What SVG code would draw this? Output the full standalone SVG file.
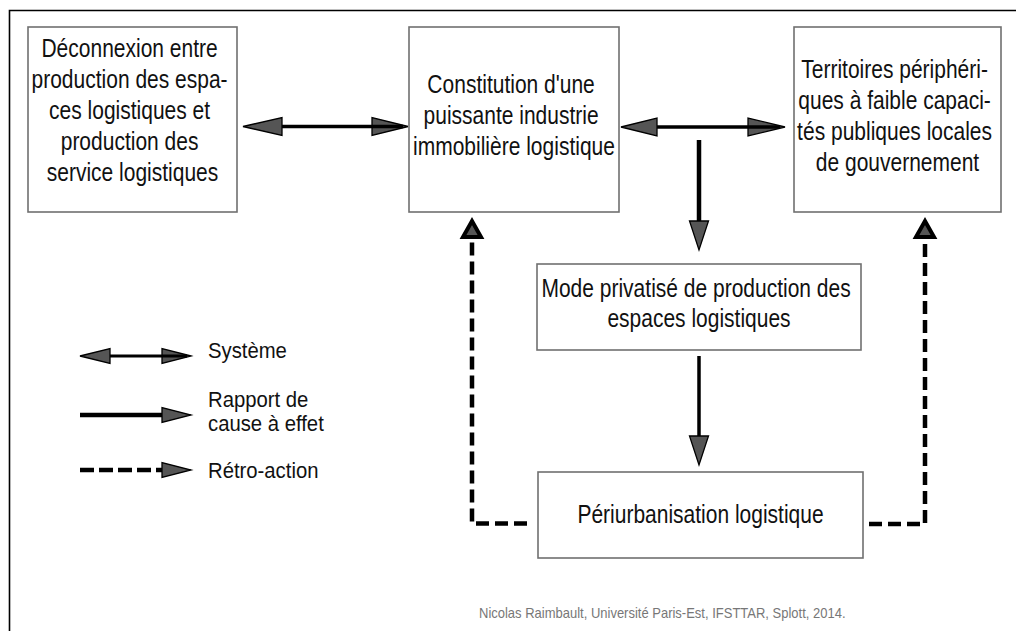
<svg xmlns="http://www.w3.org/2000/svg" width="1016" height="631" viewBox="0 0 1016 631">
<style>
.box{fill:#fff;stroke:#707070;stroke-width:1.6}
.t{font-family:"Liberation Sans",Arial,sans-serif;font-size:21px;fill:#111;text-anchor:middle}
.lg{font-family:"Liberation Sans",Arial,sans-serif;font-size:20.3px;fill:#111}
.ln{stroke:#000;fill:none}
.hd{fill:#555;stroke:#000;stroke-width:1.3;stroke-linejoin:miter}
.fb{fill:#555;stroke:#000;stroke-width:4;stroke-linejoin:miter}
.dash{stroke:#000;fill:none;stroke-width:4.5;stroke-dasharray:13 6}
</style>
<rect x="0" y="0" width="1016" height="631" fill="#fff"/>
<path d="M9.5,631 V10.5 H1016" fill="none" stroke="#000" stroke-width="1.6"/>

<g id="connectors">
  <polygon class="hd" points="243,126.5 282,117.5 282,135.5"/>
  <polygon class="hd" points="408,126.5 372,117.5 372,135.5"/>
  <line class="ln" x1="282" y1="126.5" x2="403" y2="126.5" stroke-width="3.5"/>
  <polygon class="hd" points="621,127 657,118 657,136"/>
  <polygon class="hd" points="785,127 748,118 748,136"/>
  <line class="ln" x1="657" y1="127" x2="780" y2="127" stroke-width="3.5"/>
  <line class="ln" x1="699" y1="140" x2="699" y2="222" stroke-width="4.5"/>
  <polygon class="hd" points="689.5,221 708.5,221 699,250"/>
  <line class="ln" x1="699" y1="356" x2="699" y2="437" stroke-width="3.5"/>
  <polygon class="hd" points="689.5,436 708.5,436 699,465"/>
  <path class="dash" d="M527,523.5 H472 V242"/>
  <polygon class="fb" points="463,237 481,237 472,221"/>
  <path class="dash" d="M869,524 H925 V242"/>
  <polygon class="fb" points="916,237 934,237 925,221"/>
</g>

<g id="n1">
  <rect class="box" x="28" y="27" width="209" height="185"/>
  <text class="t" transform="scale(1 1.2)">
    <tspan x="132.5" y="47.5">Déconnexion entre</tspan>
    <tspan x="132.5" y="73.33">production des espa-</tspan>
    <tspan x="132.5" y="99.17">ces logistiques et</tspan>
    <tspan x="132.5" y="125">production des</tspan>
    <tspan x="132.5" y="150.83">service logistiques</tspan>
  </text>
</g>
<g id="n2">
  <rect class="box" x="409" y="27" width="210" height="185"/>
  <text class="t" transform="scale(1 1.2)">
    <tspan x="514" y="77.5">Constitution d'une</tspan>
    <tspan x="514" y="103.33">puissante industrie</tspan>
    <tspan x="514" y="129.17">immobilière logistique</tspan>
  </text>
</g>
<g id="n3">
  <rect class="box" x="794" y="27" width="207" height="185"/>
  <text class="t" transform="scale(1 1.2)">
    <tspan x="897.5" y="65">Territoires périphéri-</tspan>
    <tspan x="897.5" y="90.83">ques à faible capaci-</tspan>
    <tspan x="897.5" y="116.67">tés publiques locales</tspan>
    <tspan x="897.5" y="142.5">de gouvernement</tspan>
  </text>
</g>
<g id="n4">
  <rect class="box" x="537" y="264" width="324" height="86"/>
  <text class="t" transform="scale(1 1.2)">
    <tspan x="699" y="247.5">Mode privatisé de production des</tspan>
    <tspan x="699" y="272.5">espaces logistiques</tspan>
  </text>
</g>
<g id="n5">
  <rect class="box" x="538" y="472" width="325" height="86"/>
  <text class="t" transform="scale(1 1.2)">
    <tspan x="700.5" y="435.83">Périurbanisation logistique</tspan>
  </text>
</g>

<g id="legend">
  <polygon class="hd" points="80,356 110,348.5 110,363.5"/>
  <polygon class="hd" points="191,356 162,348.5 162,363.5"/>
  <line class="ln" x1="110" y1="356" x2="187" y2="356" stroke-width="3"/>
  <text class="lg" transform="scale(1 1.08)" x="208" y="331.5">Système</text>

  <line class="ln" x1="80" y1="415" x2="163" y2="415" stroke-width="4.5"/>
  <polygon class="hd" points="162,407.5 162,422.5 191,415"/>
  <text class="lg" transform="scale(1 1.08)"><tspan x="208" y="376.9">Rapport de</tspan><tspan x="208" y="399.1">cause à effet</tspan></text>

  <line class="dash" x1="80" y1="470" x2="162" y2="470" style="stroke-dasharray:14 5"/>
  <polygon class="hd" points="162,462.5 162,477.5 191,470"/>
  <text class="lg" transform="scale(1 1.08)" x="208" y="442.6">Rétro-action</text>
</g>

<text transform="scale(1 1.1)" x="479" y="561.8" style="font-family:'Liberation Sans',Arial,sans-serif;font-size:13px;fill:#777">Nicolas Raimbault, Université Paris-Est, IFSTTAR, Splott, 2014.</text>
</svg>
